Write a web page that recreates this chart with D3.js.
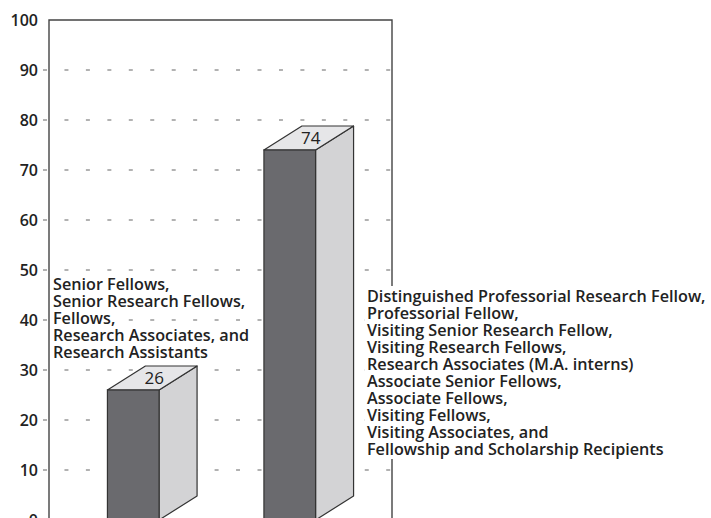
<!DOCTYPE html>
<html>
<head>
<meta charset="utf-8">
<title>Fellows chart</title>
<script src="https://d3js.org/d3.v7.min.js"></script>
<style>
body { margin: 0; background: #fff; }
svg { display: block; }
.tick-label, .note, .value { font-family: "Open Sans", sans-serif; font-weight: 600; fill: #222; }
</style>
</head>
<body>
<script>
// data
var categories = ["group1", "group2"];
var values = [26, 74];
var tickValues = [0, 10, 20, 30, 40, 50, 60, 70, 80, 90, 100];
var leftNote = ["Senior Fellows,", "Senior Research Fellows,", "Fellows,", "Research Associates, and", "Research Assistants"];
var rightNote = ["Distinguished Professorial Research Fellow,", "Professorial Fellow,", "Visiting Senior Research Fellow,",
  "Visiting Research Fellows,", "Research Associates (M.A. interns)", "Associate Senior Fellows,", "Associate Fellows,",
  "Visiting Fellows,", "Visiting Associates, and", "Fellowship and Scholarship Recipients"];

var W = 711, H = 518;
var plotL = 49, plotR = 392, plotT = 20;
var depthX = 38, depthY = -24;

var svg = d3.select("body").append("svg").attr("width", W).attr("height", H);
svg.append("rect").attr("width", W).attr("height", H).attr("fill", "#fff");

var y = d3.scaleLinear().domain([0, 100]).range([520, plotT]);
var x = d3.scaleBand().domain(categories).range([55, 368]).paddingInner(0.67).paddingOuter(0.335);

// dashed gridlines (incl. the little tick to the left of the axis)
svg.append("g").selectAll("line").data(tickValues.filter(function(d) { return d > 0 && d < 100; }))
  .enter().append("line")
  .attr("x1", 43).attr("x2", plotR)
  .attr("y1", function(d) { return y(d); }).attr("y2", function(d) { return y(d); })
  .attr("stroke", "#666").attr("stroke-width", 1.2)
  .attr("stroke-dasharray", "4,17.45");

// frame
svg.append("path")
  .attr("d", "M" + plotL + "," + H + "V" + plotT + "H" + plotR + "V" + H)
  .attr("fill", "none").attr("stroke", "#444").attr("stroke-width", 1.4);

// tick labels
svg.append("g").selectAll("text").data(tickValues).enter().append("text")
  .attr("class", "tick-label")
  .attr("x", 38).attr("y", function(d) { return y(d); })
  .attr("dy", "0.35em").attr("text-anchor", "end")
  .style("font-size", "16px")
  .text(function(d) { return d; });

// 3d bars
var bars = svg.append("g").selectAll("g").data(values).enter().append("g");
function pts(a) { return a.map(function(p) { return p.join(","); }).join(" "); }
bars.each(function(d, i) {
  var g = d3.select(this);
  var x0 = x(categories[i]), x1 = x0 + x.bandwidth();
  var yt = y(d), yb = y(0);
  g.append("polygon")
    .attr("points", pts([[x1, yb], [x1, yt], [x1 + depthX, yt + depthY], [x1 + depthX, yb + depthY]]))
    .attr("fill", "#d3d3d5").attr("stroke", "#333").attr("stroke-width", 1.2).attr("stroke-linejoin", "round");
  g.append("polygon")
    .attr("points", pts([[x0, yt], [x1, yt], [x1 + depthX, yt + depthY], [x0 + depthX, yt + depthY]]))
    .attr("fill", "#e6e6e8").attr("stroke", "#333").attr("stroke-width", 1.2).attr("stroke-linejoin", "round");
  g.append("rect")
    .attr("x", x0).attr("y", yt).attr("width", x1 - x0).attr("height", yb - yt)
    .attr("fill", "#6a6a6e").attr("stroke", "#333").attr("stroke-width", 1.2);
  g.append("text").attr("class", "value")
    .attr("x", (x0 + x1) / 2 + depthX / 2 + 2).attr("y", yt + depthY / 2)
    .attr("dy", "0.35em").attr("text-anchor", "middle")
    .style("font-size", "17px").style("font-weight", 500)
    .text(d);
});

// notes with white backing per line
function note(lines, x0, y0) {
  var g = svg.append("g");
  var t = g.selectAll("text").data(lines).enter().append("text")
    .attr("class", "note")
    .attr("x", x0).attr("y", function(d, i) { return y0 + i * 17; })
    .style("font-size", "16.2px")
    .text(function(d) { return d; });
  t.each(function() {
    var b = this.getBBox();
    g.insert("rect", "text")
      .attr("x", b.x - 2).attr("y", b.y + 1).attr("width", b.width + 4).attr("height", b.height - 2)
      .attr("fill", "#fff");
  });
}
note(leftNote, 53, 290);
note(rightNote, 367, 302);
</script>
</body>
</html>
